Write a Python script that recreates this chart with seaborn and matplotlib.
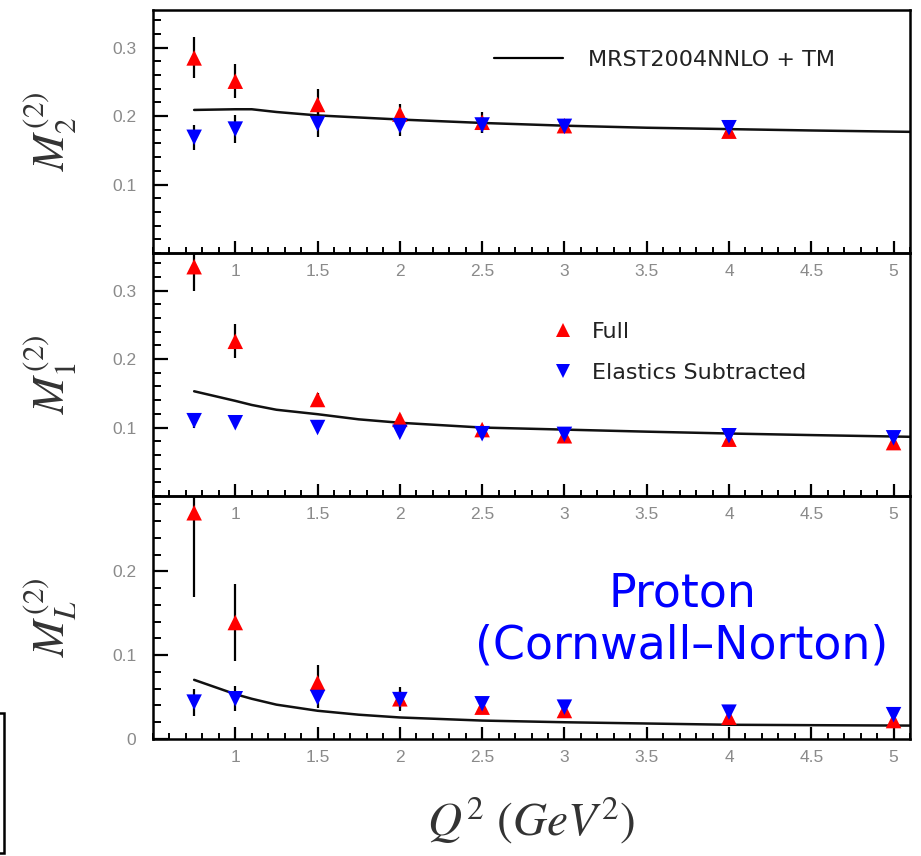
import numpy as np
import pandas as pd
import matplotlib
matplotlib.use("Agg")
import matplotlib.pyplot as plt
import matplotlib.transforms as mtransforms
from matplotlib.lines import Line2D
from matplotlib.patches import Rectangle
from matplotlib.ticker import MultipleLocator, FixedLocator
import seaborn as sns

# ---------------- data ----------------
q2_pts = [0.75, 1.0, 1.5, 2.0, 2.5, 3.0, 4.0, 5.0]

# M2^(2)  (no point at Q2=5)
m2_full = [0.285, 0.251, 0.217, 0.203, 0.191, 0.186, 0.178]
m2_full_err = [0.030, 0.025, 0.022, 0.015, 0.015, 0.008, 0.006]
m2_el = [0.169, 0.181, 0.189, 0.186, 0.187, 0.185, 0.183]
m2_el_err = [0.018, 0.020, 0.020, 0.015, 0.012, 0.008, 0.006]

# M1^(2)
m1_full = [0.335, 0.226, 0.141, 0.112, 0.097, 0.088, 0.083, 0.078]
m1_full_err = [0.036, 0.025, 0.010, 0.008, 0.007, 0.006, 0.005, 0.005]
m1_el = [0.110, 0.107, 0.100, 0.093, 0.091, 0.090, 0.088, 0.085]
m1_el_err = [0.010, 0.006, 0.005, 0.005, 0.005, 0.004, 0.004, 0.004]

# ML^(2)
ml_full = [0.270, 0.139, 0.067, 0.048, 0.038, 0.034, 0.026, 0.022]
ml_full_err = [0.100, 0.046, 0.021, 0.014, 0.006, 0.005, 0.004, 0.004]
ml_el = [0.044, 0.048, 0.0495, 0.047, 0.042, 0.038, 0.032, 0.029]
ml_el_err = [0.016, 0.015, 0.012, 0.010, 0.006, 0.005, 0.004, 0.004]

# MRST2004NNLO + TM curves
q2_curve = [0.75, 1.0, 1.1, 1.25, 1.5, 1.75, 2.0, 2.5, 3.0, 3.5, 4.0, 4.5, 5.1]
m2_curve = [0.209, 0.210, 0.210, 0.206, 0.201, 0.198, 0.195, 0.190, 0.186, 0.183, 0.181, 0.179, 0.177]
m1_curve = [0.153, 0.139, 0.133, 0.126, 0.1195, 0.112, 0.107, 0.100, 0.097, 0.094, 0.0913, 0.089, 0.0865]
ml_curve = [0.0706, 0.0535, 0.048, 0.041, 0.0337, 0.029, 0.0257, 0.022, 0.020, 0.0185, 0.017, 0.0165, 0.016]

x_ticklabels = ["1", "1.5", "2", "2.5", "3", "3.5", "4", "4.5", "5"]
ylabels = [r"$M_2^{(2)}$", r"$M_1^{(2)}$", r"$M_L^{(2)}$"]
legend_line = "MRST2004NNLO + TM"
legend_full = "Full"
legend_el = "Elastics Subtracted"
annot = "Proton\n(Cornwall\u2013Norton)"
xlabel = r"$Q^2\ (GeV^2)$"

# ---------------- style ----------------
sns.set_theme(style="white")
plt.rcParams["font.family"] = ["Liberation Sans", "DejaVu Sans"]
plt.rcParams["mathtext.fontset"] = "stix"

W, H = 921, 856
fig = plt.figure(figsize=(W / 100, H / 100), dpi=100)

left_px, right_px = 153, 910
tops = [10, 253, 496]
bots = [253, 496, 739]
axes = []
for t, b in zip(tops, bots):
    ax = fig.add_axes([left_px / W, 1 - b / H, (right_px - left_px) / W, (b - t) / H])
    axes.append(ax)

panels = [
    (m2_full, m2_full_err, m2_el, m2_el_err, m2_curve, (0, 0.355), [0.1, 0.2, 0.3], ["0.1", "0.2", "0.3"]),
    (m1_full, m1_full_err, m1_el, m1_el_err, m1_curve, (0, 0.355), [0.1, 0.2, 0.3], ["0.1", "0.2", "0.3"]),
    (ml_full, ml_full_err, ml_el, ml_el_err, ml_curve, (0, 0.29), [0.0, 0.1, 0.2], ["0", "0.1", "0.2"]),
]

tick_color = "#8a8a8a"
for i, (ax, (yf, ef, ye, ee, yc, ylim, yt, ytl)) in enumerate(zip(axes, panels)):
    xf = q2_pts[:len(yf)]
    xe = q2_pts[:len(ye)]
    sns.lineplot(x=q2_curve, y=yc, ax=ax, color="#111111", linewidth=1.8, zorder=2)
    ax.errorbar(xf, yf, yerr=ef, fmt="none", ecolor="black", elinewidth=1.6, capsize=0, zorder=3)
    ax.errorbar(xe, ye, yerr=ee, fmt="none", ecolor="black", elinewidth=1.6, capsize=0, zorder=3)
    sns.scatterplot(x=xf, y=yf, ax=ax, marker="^", s=125, color="#ff0000", edgecolor="none", zorder=4, clip_on=False)
    sns.scatterplot(x=xe, y=ye, ax=ax, marker="v", s=125, color="#0000ff", edgecolor="none", zorder=5, clip_on=False)

    ax.set_xlim(0.5, 5.1)
    ax.set_ylim(*ylim)
    ax.xaxis.set_major_locator(FixedLocator([1, 1.5, 2, 2.5, 3, 3.5, 4, 4.5, 5]))
    ax.set_xticklabels(x_ticklabels)
    ax.xaxis.set_minor_locator(MultipleLocator(0.1))
    ax.yaxis.set_major_locator(FixedLocator(yt))
    ax.set_yticklabels(ytl)
    ax.yaxis.set_minor_locator(MultipleLocator(0.02))
    ax.tick_params(axis="x", which="major", direction="in", length=9, width=1.6, color="black",
                   bottom=True, top=False, pad=8, labelsize=12.5, labelcolor=tick_color)
    ax.tick_params(axis="x", which="minor", direction="in", length=4.5, width=1.4, color="black",
                   bottom=True, top=False)
    ax.tick_params(axis="y", which="major", direction="in", length=11, width=1.6, color="black",
                   left=True, right=False, pad=12, labelsize=12.5, labelcolor=tick_color)
    ax.tick_params(axis="y", which="minor", direction="in", length=6, width=1.4, color="black",
                   left=True, right=False)
    for s in ax.spines.values():
        s.set_color("black")
        s.set_linewidth(1.8)
        s.set_visible(True)
    ax.set_xlabel("")
    ax.set_ylabel(ylabels[i], fontsize=32, color="#333333", labelpad=0)
    ax.yaxis.set_label_coords(-0.098, 0.5)
    ax.patch.set_alpha(0)
    ax.grid(False)
    if ax.get_legend() is not None:
        ax.get_legend().remove()

axes[0].set_zorder(3)
axes[1].set_zorder(2)
axes[2].set_zorder(1)

# legends
h_line = Line2D([], [], color="black", linewidth=1.6)
leg1 = axes[0].legend([h_line], [legend_line], loc="center left", bbox_to_anchor=(0.45, 0.795),
                      frameon=False, prop={"family": "DejaVu Sans", "size": 16},
                      handlelength=3.1, handletextpad=1.15, borderpad=0, borderaxespad=0)
for t in leg1.get_texts():
    t.set_color("#222222")

h_full = Line2D([], [], linestyle="none", marker="^", markersize=10, color="#ff0000", markeredgewidth=0)
h_el = Line2D([], [], linestyle="none", marker="v", markersize=10, color="#0000ff", markeredgewidth=0)
leg2 = axes[1].legend([h_full, h_el], [legend_full, legend_el], loc="center left",
                      bbox_to_anchor=(0.53, 0.59), frameon=False,
                      prop={"family": "DejaVu Sans", "size": 16},
                      handlelength=0.8, handletextpad=0.9, labelspacing=0.95,
                      borderpad=0, borderaxespad=0)
for t in leg2.get_texts():
    t.set_color("#222222")

# annotation
fig.text(682 / W, 1 - 620 / H, annot, ha="center", va="center", color="#0000ff",
         fontsize=33, family="DejaVu Sans", linespacing=1.2)

# x label
fig.text(531 / W, 1 - 820 / H, xlabel, ha="center", va="center", fontsize=34, color="#333333")

# stray box at bottom-left
rect = Rectangle((-20, 713), 24, 140, fill=False, edgecolor="black", linewidth=1.8)
rect.set_transform(mtransforms.Affine2D().scale(1, -1).translate(0, H))
fig.patches.append(rect)

fig.savefig("out.png", dpi=100, facecolor="white")
